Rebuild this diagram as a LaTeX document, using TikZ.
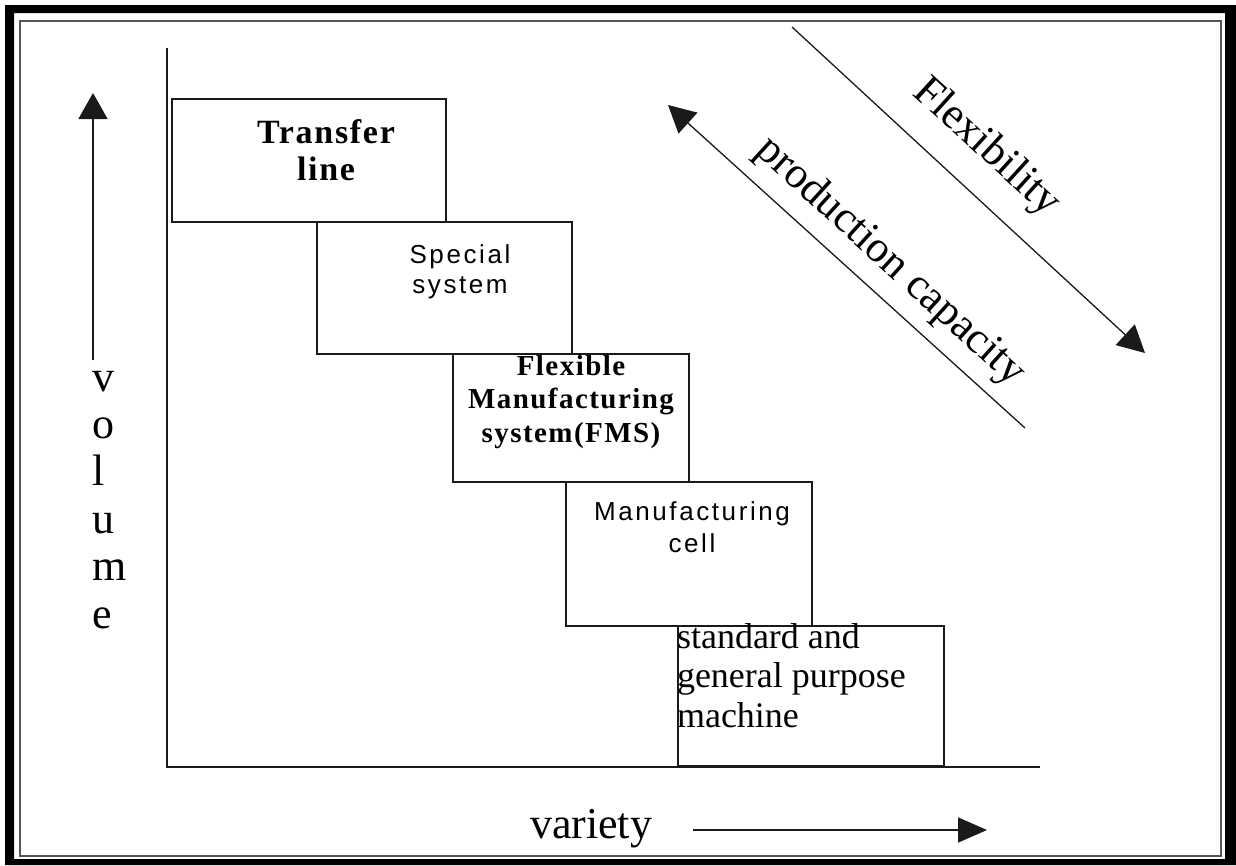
\documentclass[tikz,border=0pt]{standalone}
\usepackage{fontspec}
\setmainfont{Liberation Serif}
\newfontfamily\arialspaced[LetterSpace=10]{Liberation Sans}
\newfontfamily\serifspaced[LetterSpace=5]{Liberation Serif}
\usetikzlibrary{arrows.meta}

\definecolor{ink}{HTML}{1A1A1A}
\definecolor{framegray}{HTML}{555555}

\tikzset{
  stagebox/.style={draw=ink, line width=1.8pt, inner sep=0pt, outer sep=0pt},
  boxtext/.style={inner sep=0pt, outer sep=0pt, align=center, text=black},
  axisline/.style={draw=ink, line width=1.8pt},
  bigarrow/.style={draw=ink, line width=1.8pt, -{Triangle[width=29pt,length=26pt]}},
  diagarrow/.style={draw=ink, line width=1.3pt, -{Triangle[width=28pt,length=27pt]}},
  axislabel/.style={inner sep=0pt, outer sep=0pt, font=\fontsize{44}{47.4}\selectfont},
}

\begin{document}
\begin{tikzpicture}[x=1pt,y=-1pt]
\useasboundingbox (0,0) rectangle (1236,865);

% outer black frame and thin inner frame
\fill[black, even odd rule] (5,5) rectangle (1236,865) (14,13) rectangle (1225,859);
\draw[framegray, line width=2pt] (19.5,20.5) rectangle (1220.5,855.5);

% axes
\coordinate (origin) at (167,767);
\coordinate (ytop) at (167,48);
\coordinate (xend) at (1040,767);
\draw[axisline] (ytop) -- (origin) -- (xend);

% staircase of manufacturing systems
\node[stagebox, minimum width=274pt, minimum height=123pt] (transfer) at (309,160.5) {};
\node[stagebox, minimum width=255pt, minimum height=132pt] (special) at (444.5,288) {};
\node[stagebox, minimum width=236pt, minimum height=128pt] (fms) at (571,418) {};
\node[stagebox, minimum width=246pt, minimum height=144pt] (cell) at (689,554) {};
\node[stagebox, minimum width=266pt, minimum height=140pt] (standard) at (811,696) {};

% box labels (anchored on the baseline of their last line)
\node[boxtext, anchor=base, font=\fontsize{34}{37}\serifspaced\bfseries] (transfertext) at (326,180) {Transfer\\line};
\node[boxtext, anchor=base, font=\fontsize{26}{30}\arialspaced] (specialtext) at (460,293) {Special\\system};
\node[boxtext, anchor=base, font=\fontsize{29}{33.5}\serifspaced\bfseries] (fmstext) at (571,442) {Flexible\\Manufacturing\\system(FMS)};
\node[boxtext, anchor=base, font=\fontsize{26}{32}\arialspaced] (celltext) at (692,552) {Manufacturing\\cell};
\node[boxtext, align=left, anchor=base west, font=\fontsize{36}{39.5}\selectfont] (standardtext) at (677,727) {standard and\\general purpose\\machine};

% volume axis label and arrow
\coordinate (volfoot) at (93,360);
\coordinate (voltip) at (93,93);
\draw[bigarrow] (volfoot) -- (voltip);
\node[axislabel, align=left, anchor=base west] (volume) at (92,628) {v\\o\\l\\u\\m\\e};

% variety axis label and arrow
\node[axislabel, anchor=base west] (variety) at (530,838) {variety};
\coordinate (varfoot) at (693,830);
\coordinate (vartip) at (987,830);
\draw[bigarrow, line width=1.6pt, -{Triangle[width=25pt,length=29pt]}] (varfoot) -- (vartip);

% diagonal trends
\coordinate (capfoot) at (1025,428);
\coordinate (captip) at (668,105);
\draw[diagarrow] (capfoot) -- (captip);
\coordinate (flexstart) at (792,27);
\coordinate (flextip) at (1145,353);
\draw[diagarrow] (flexstart) -- (flextip);

\node[axislabel, rotate=-42.3] (capacity) at (890,262) {production capacity};
\node[axislabel, rotate=-42.3] (flexibility) at (986,148) {Flexibility};
\end{tikzpicture}
\end{document}
